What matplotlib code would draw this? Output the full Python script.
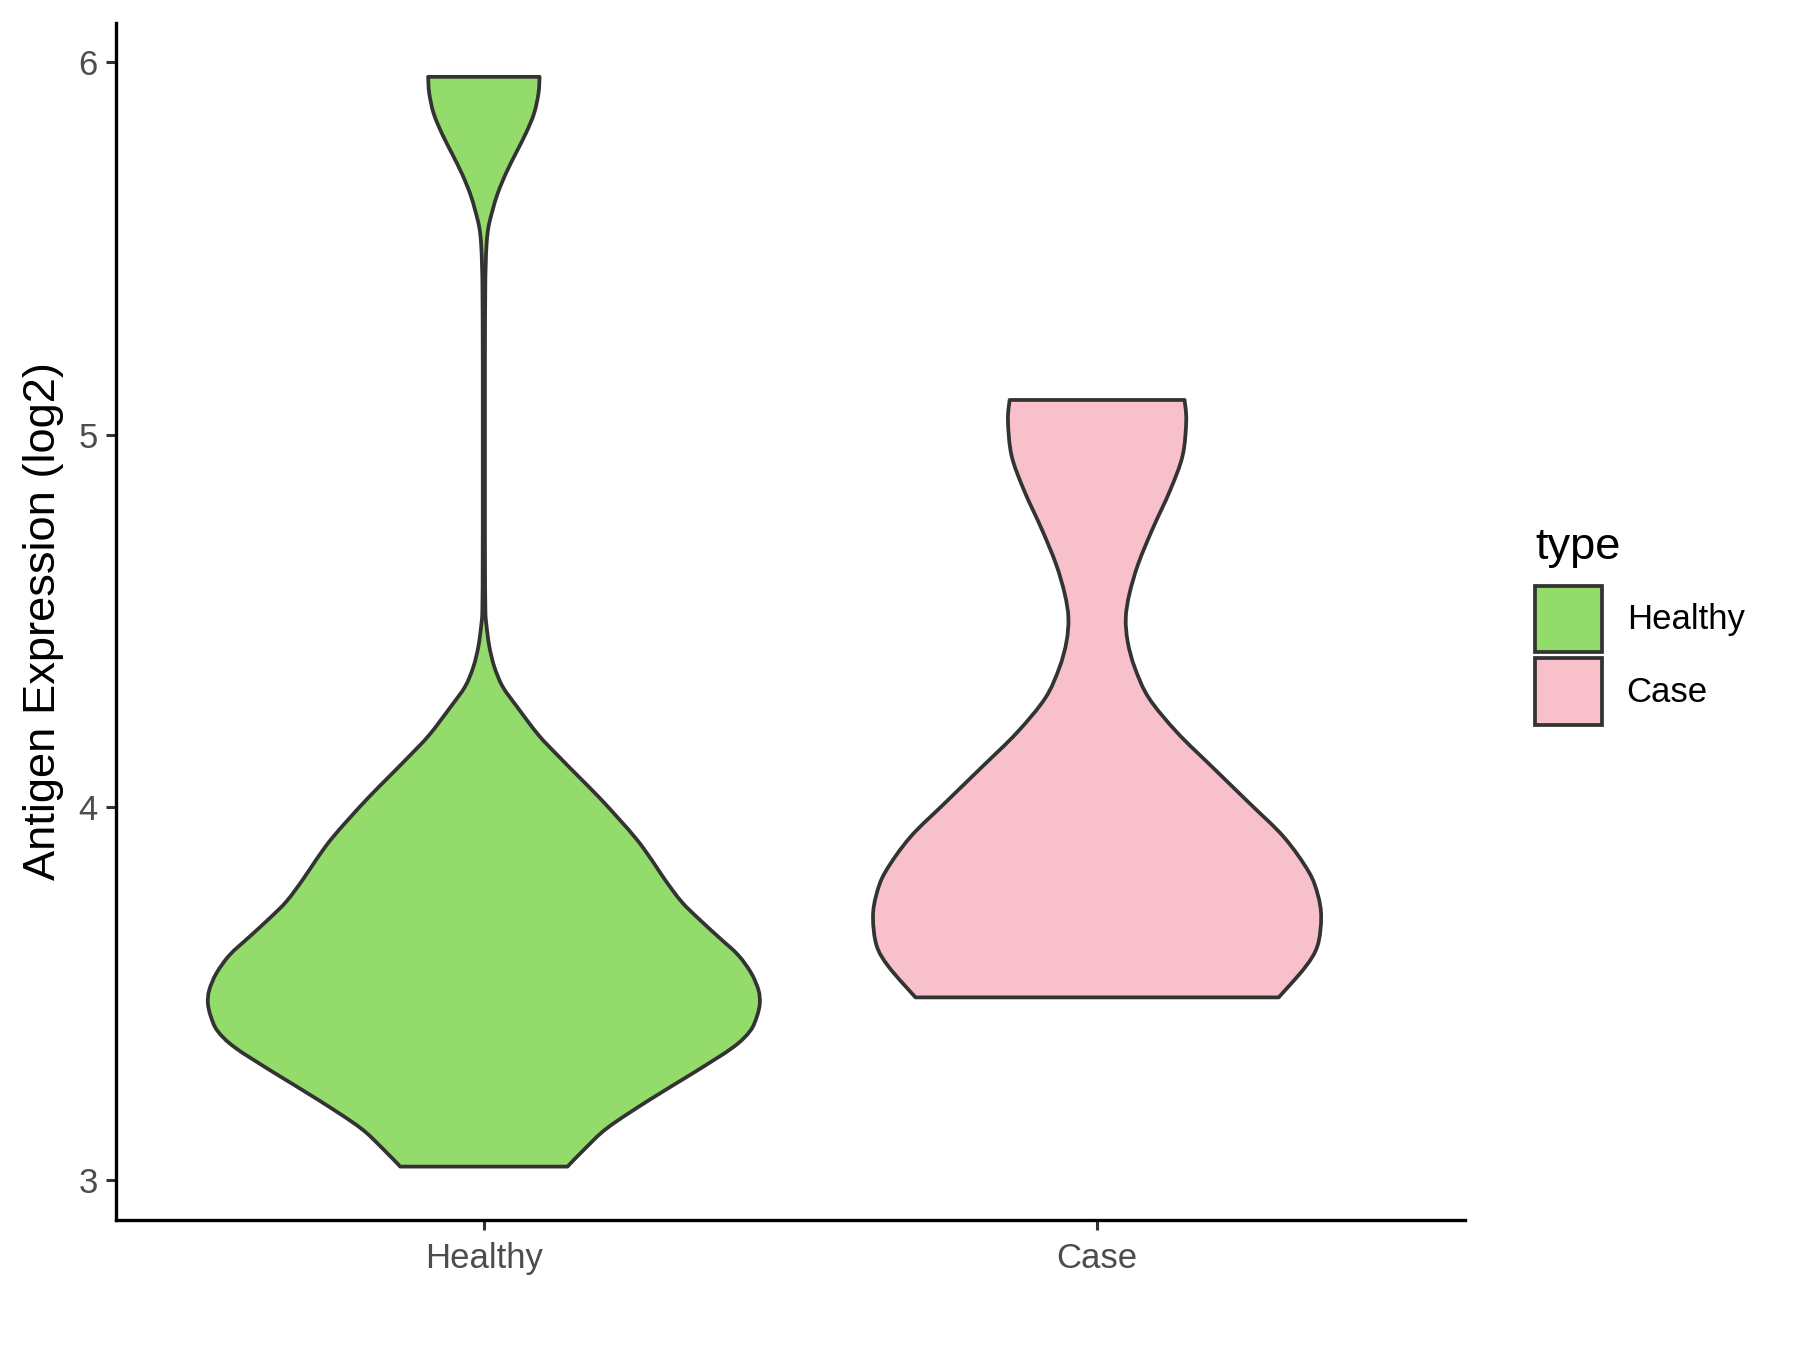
import matplotlib
matplotlib.use("Agg")
import matplotlib.pyplot as plt
from matplotlib.patches import PathPatch, Patch
from matplotlib.path import Path
import numpy as np

plt.rcParams['font.family'] = ['Liberation Sans', 'DejaVu Sans']

# ---- data ----
categories = ["Healthy", "Case"]
fill_colors = ["#93DB6A", "#F7C0CB"]

# violin outline: expression level (log2) and relative density (scaled so the widest = 1)
healthy_y = [5.960, 5.916, 5.862, 5.808, 5.755, 5.701, 5.647, 5.603, 5.558, 5.513,
             5.45, 5.38, 5.2, 5.0, 4.8, 4.664, 4.529, 4.485, 4.431, 4.377, 4.324,
             4.270, 4.194, 4.136, 4.082, 4.028, 3.970, 3.912, 3.859, 3.805, 3.747,
             3.702, 3.653, 3.604, 3.555, 3.51, 3.475, 3.44, 3.40, 3.356, 3.29,
             3.215, 3.14, 3.083, 3.036]
healthy_d = [0.202, 0.198, 0.182, 0.152, 0.116, 0.080, 0.050, 0.032, 0.017, 0.010,
             0.0066, 0.0050, 0.0040, 0.0040, 0.0040, 0.0042, 0.0055, 0.010, 0.020, 0.038, 0.068,
             0.120, 0.198, 0.272, 0.344, 0.416, 0.488, 0.556, 0.608, 0.657, 0.716,
             0.777, 0.849, 0.921, 0.969, 0.995, 1.000, 0.990, 0.965, 0.903, 0.765,
             0.600, 0.448, 0.365, 0.303]

case_y = [5.093, 5.037, 4.944, 4.851, 4.747, 4.653, 4.572, 4.508, 4.444, 4.374,
          4.293, 4.2, 4.107, 4.014, 3.92, 3.827, 3.765, 3.705, 3.629, 3.571, 3.49]
case_d = [0.317, 0.323, 0.310, 0.265, 0.201, 0.149, 0.117, 0.104, 0.111, 0.137,
          0.188, 0.291, 0.419, 0.548, 0.677, 0.767, 0.800, 0.812, 0.799, 0.754, 0.658]

y_ticks = [3, 4, 5, 6]
y_label = "Antigen Expression (log2)"
legend_title = "type"

profiles = [(healthy_y, healthy_d), (case_y, case_d)]


def smooth_side(pts):
    """Bezier (Catmull-Rom) segments through the outline points."""
    verts, codes = [], []
    n = len(pts)
    for i in range(n - 1):
        p0 = pts[max(i - 1, 0)]
        p1 = pts[i]
        p2 = pts[i + 1]
        p3 = pts[min(i + 2, n - 1)]
        c1 = p1 + (p2 - p0) / 6.0
        c2 = p2 - (p3 - p1) / 6.0
        verts += [c1, c2, p2]
        codes += [Path.CURVE4] * 3
    return verts, codes


# ---- figure ----
fig = plt.figure(figsize=(9, 6.75), dpi=200)
ax = fig.add_axes([0.0644, 0.0963, 0.8139 - 0.0644, 0.983 - 0.0963])

half_max = 0.45
edge = "#333333"
for i, ((ys, ds), col) in enumerate(zip(profiles, fill_colors)):
    pos = i + 1
    ys = np.asarray(ys, float)
    ds = np.asarray(ds, float)
    right = np.column_stack([pos + half_max * ds, ys])          # top -> bottom
    left = np.column_stack([pos - half_max * ds, ys])[::-1]     # bottom -> top
    verts = [left[-1]]
    codes = [Path.MOVETO]
    verts.append(right[0]); codes.append(Path.LINETO)           # flat top
    v, c = smooth_side(right); verts += v; codes += c
    verts.append(left[0]); codes.append(Path.LINETO)            # flat bottom
    v, c = smooth_side(left); verts += v; codes += c
    verts.append(left[-1]); codes.append(Path.CLOSEPOLY)
    patch = PathPatch(Path(np.array(verts), codes), facecolor=col,
                      edgecolor=edge, linewidth=1.35, joinstyle="round")
    ax.add_patch(patch)

ax.set_xlim(0.4, 2.6)
ax.set_ylim(2.8927, 6.1046)
ax.set_xticks([1, 2])
ax.set_xticklabels(categories)
ax.set_yticks(y_ticks)
ax.set_yticklabels([str(t) for t in y_ticks])

for s in ["top", "right"]:
    ax.spines[s].set_visible(False)
for s in ["left", "bottom"]:
    ax.spines[s].set_linewidth(1.2)
    ax.spines[s].set_color("black")

ax.tick_params(axis="both", length=3.6, width=1.1, color="#333333",
               labelcolor="#4D4D4D", labelsize=12.5)
ax.tick_params(axis="x", pad=4.5)
ax.tick_params(axis="y", pad=3)
ax.set_ylabel(y_label, fontsize=16.3, color="black", labelpad=5)

handles = [Patch(facecolor=c, edgecolor=edge, linewidth=1.35) for c in fill_colors]
leg = ax.legend(handles, categories, title=legend_title, loc="upper left",
                bbox_to_anchor=(1535 / 1800, 1 - 526.5 / 1350),
                bbox_transform=fig.transFigure, frameon=False,
                fontsize=12.5, title_fontsize=16.3, handlelength=1.92,
                handleheight=2.577, handletextpad=0.72, labelspacing=0.165,
                borderpad=0, borderaxespad=0, alignment="left")
leg._legend_box.sep = 6.5

fig.savefig("out.png", dpi=200)
